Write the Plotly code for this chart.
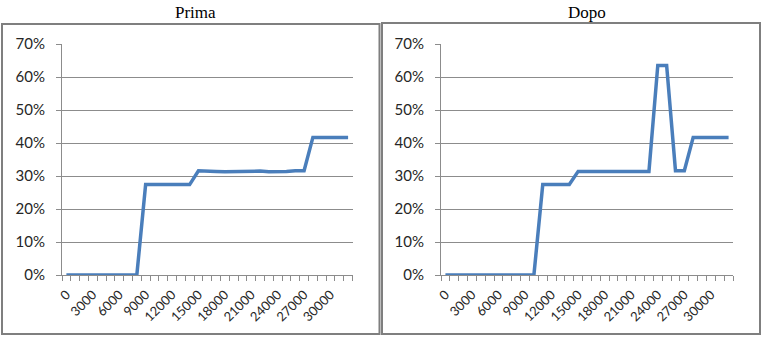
import plotly.graph_objects as go

# Categories (steps) on the horizontal axis
steps = list(range(0, 33000, 1000))
tick_positions = [0, 3000, 6000, 9000, 12000, 15000, 18000, 21000, 24000, 27000, 30000]
tick_labels = ["0", "3000", "6000", "9000", "12000", "15000", "18000",
               "21000", "24000", "27000", "30000"]

# Share values before and after
prima = [0, 0, 0, 0, 0, 0, 0, 0, 0,
         0.274, 0.274, 0.274, 0.274, 0.274, 0.274,
         0.316, 0.316, 0.314, 0.313, 0.314, 0.315, 0.316, 0.315, 0.313,
         0.313, 0.314, 0.316, 0.316,
         0.417, 0.417, 0.417, 0.417, 0.417]
dopo = [0, 0, 0, 0, 0, 0, 0, 0, 0, 0, 0,
        0.274, 0.274, 0.274, 0.274,
        0.314, 0.314, 0.314, 0.314, 0.314, 0.314, 0.314, 0.314, 0.314,
        0.635, 0.635,
        0.316, 0.316,
        0.417, 0.417, 0.417, 0.417, 0.417]

W, H = 762, 337
LINE_COLOR = "#4A7EBB"
GRID = "#8c8c8c"


def px(x):
    return x / W


def py(y):
    return 1 - y / H


fig = go.Figure()
fig.add_trace(go.Scatter(x=steps, y=prima, mode="lines", xaxis="x", yaxis="y",
                         line=dict(color=LINE_COLOR, width=3.5), showlegend=False))
fig.add_trace(go.Scatter(x=steps, y=dopo, mode="lines", xaxis="x2", yaxis="y2",
                         line=dict(color=LINE_COLOR, width=3.5), showlegend=False))

xaxis_common = dict(
    range=[-500, 32500], tickmode="array", tickvals=tick_positions, ticktext=tick_labels,
    tickangle=-45, ticks="", showgrid=False, zeroline=False, automargin=False,
    showline=True, linecolor=GRID, linewidth=1, ticklabelstandoff=6,
    tickfont=dict(family="Lato", size=13, color="#262626"),
    minor=dict(ticks="outside", tick0=500, dtick=1000, ticklen=5, tickcolor=GRID, showgrid=False),
    fixedrange=True,
)
yaxis_common = dict(
    range=[0, 0.70], dtick=0.1, tickformat=".0%", showgrid=True, gridcolor=GRID, gridwidth=1,
    zeroline=False, showline=True, linecolor=GRID, linewidth=1, automargin=False,
    ticks="outside", ticklen=5, tickcolor=GRID, ticklabelstandoff=8,
    tickfont=dict(family="Lato", size=15, color="#262626"),
    fixedrange=True,
)

y_dom = [py(275), py(44)]
fig.update_layout(
    width=W, height=H, margin=dict(l=0, r=0, t=0, b=0),
    paper_bgcolor="white", plot_bgcolor="white",
    xaxis=dict(domain=[px(62), px(352.5)], anchor="y", **xaxis_common),
    yaxis=dict(domain=y_dom, anchor="x", **yaxis_common),
    xaxis2=dict(domain=[px(441), px(733)], anchor="y2", **xaxis_common),
    yaxis2=dict(domain=y_dom, anchor="x2", **yaxis_common),
    shapes=[
        dict(type="rect", xref="paper", yref="paper",
             x0=px(2), x1=px(379.5), y0=py(334), y1=py(24),
             line=dict(color="#7f7f7f", width=2), layer="below"),
        dict(type="rect", xref="paper", yref="paper",
             x0=px(382), x1=px(760), y0=py(334), y1=py(23),
             line=dict(color="#7f7f7f", width=2), layer="below"),
    ],
    annotations=[
        dict(text="Prima", xref="paper", yref="paper", x=px(195), y=py(12),
             xanchor="center", yanchor="middle", showarrow=False,
             font=dict(family="Liberation Serif", size=17, color="black")),
        dict(text="Dopo", xref="paper", yref="paper", x=px(587), y=py(12),
             xanchor="center", yanchor="middle", showarrow=False,
             font=dict(family="Liberation Serif", size=17, color="black")),
    ],
)

fig.write_html("out.html")
